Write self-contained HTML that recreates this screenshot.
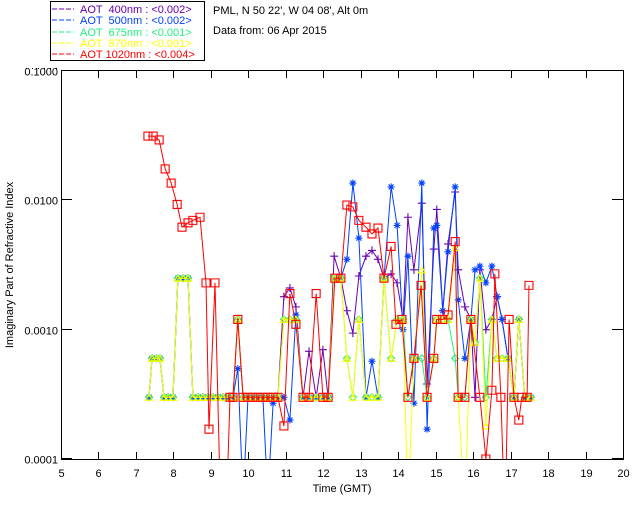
<!DOCTYPE html>
<html><head><meta charset="utf-8"><style>
body{margin:0;background:#fff;}
svg{display:block;font-family:"Liberation Sans",sans-serif;}
.pre{white-space:pre;}
</style></head><body>
<svg id="chart" width="640" height="512" viewBox="0 0 640 512" xmlns="http://www.w3.org/2000/svg">
<rect x="0" y="0" width="640" height="512" fill="#fff"/>
<g>
<rect x="50.5" y="1.5" width="154" height="59" fill="none" stroke="#000" stroke-width="1"/>
<g font-size="11" class="pre">
<line x1="52" y1="9" x2="74" y2="9" stroke="#6a00b0" stroke-dasharray="5,2"/><text class="pre" x="80" y="13" fill="#6a00b0">AOT  400nm : &lt;0.002&gt;</text>
<line x1="52" y1="20" x2="74" y2="20" stroke="#0040ff" stroke-dasharray="5,2"/><text class="pre" x="80" y="24" fill="#0040ff">AOT  500nm : &lt;0.002&gt;</text>
<line x1="52" y1="32" x2="74" y2="32" stroke="#20f080" stroke-dasharray="5,2"/><text class="pre" x="80" y="36" fill="#20f080">AOT  675nm : &lt;0.001&gt;</text>
<line x1="52" y1="43" x2="74" y2="43" stroke="#ffff00" stroke-dasharray="5,2"/><text class="pre" x="80" y="47" fill="#ffff00">AOT  870nm : &lt;0.001&gt;</text>
<line x1="52" y1="54" x2="74" y2="54" stroke="#ff0000" stroke-dasharray="5,2"/><text class="pre" x="80" y="58" fill="#ff0000">AOT 1020nm : &lt;0.004&gt;</text>
</g></g>
<text x="213" y="14" font-size="11">PML, N 50 22', W 04 08', Alt 0m</text>
<text x="213" y="34" font-size="11">Data from: 06 Apr 2015</text>
<g fill="#000">
<rect x="26" y="68" width="1" height="1"/><rect x="32" y="68" width="1" height="1"/><rect x="38" y="68" width="1" height="1"/><rect x="44" y="68" width="1" height="1"/><rect x="50" y="68" width="1" height="1"/><rect x="56" y="68" width="1" height="1"/>
</g>
<defs><clipPath id="pc"><rect x="61" y="71" width="562" height="388"/></clipPath></defs>
<g id="axes"></g>
<g id="series" clip-path="url(#pc)"></g>
<text x="342" y="492" font-size="11" text-anchor="middle">Time (GMT)</text>
<text transform="translate(13,265) rotate(-90)" font-size="11" text-anchor="middle">Imaginary Part of Refractive Index</text>
</svg>
<script>
const xTicks=[5,6,7,8,9,10,11,12,13,14,15,16,17,18,19,20];
const yTicks=[0.1,0.01,0.001,0.0001];
const yTickLabels=["0.1000","0.0100","0.0010","0.0001"];
const times=[7.35,7.43,7.56,7.64,7.75,7.86,7.99,8.12,8.26,8.39,8.52,8.66,8.79,8.92,9.06,9.19,9.32,9.46,9.59,9.72,9.86,9.99,10.12,10.26,10.39,10.52,10.66,10.79,10.95,11.11,11.27,11.46,11.62,11.81,11.99,12.13,12.29,12.47,12.63,12.79,12.95,13.14,13.30,13.46,13.62,13.81,13.97,14.13,14.26,14.42,14.63,14.77,14.95,15.03,15.19,15.33,15.52,15.60,15.78,15.94,16.05,16.18,16.34,16.50,16.64,16.77,16.93,17.09,17.22,17.38,17.54];
const v400=[.0003,.0006,.0006,.0006,.0003,.0003,.0003,.0025,.0025,.0025,.0003,.0003,.0003,.0003,.0003,.0003,.0003,.0003,.0003,.0012,.0003,.0003,.0003,.0003,.0003,.0003,.0003,.0003,.0018,.0021,.0015,.0003,.00068,.0003,.0007,.0003,.0037,.0025,.0014,.00094,.0026,.0037,.0041,.0035,.0025,.0027,.0023,.0012,.0074,.0029,.0095,.00038,.0042,.0085,.0014,.0046,.0116,.0029,.0015,.0012,.0003,.0029,.001,.0012,.0018,.0012,.0006,.0003,.0012,.0003,.0003];
const v500=[.0003,.0006,.0006,.0006,.0003,.0003,.0003,.0025,.0025,.0025,.0003,.0003,.0003,.0003,.0003,.0003,.0003,.0003,.0003,.0005,.00005,.0003,.0003,.0003,.0003,.00005,.00027,.0003,.0003,.0002,.0013,.0003,.0003,.0003,.0003,.0003,.0025,.0025,.0035,.0136,.0051,.0003,.00057,.0003,.0025,.0127,.0064,.0010,.0037,.00027,.0136,.00017,.0061,.0064,.0014,.004,.0127,.0017,.0006,.0012,.0029,.0031,.0023,.0031,.0018,.0012,.0006,.0003,.0012,.0003,.0003];
const v675=[.0003,.0006,.0006,.0006,.0003,.0003,.0003,.0025,.0025,.0025,.0003,.0003,.0003,.0003,.0003,.0003,.0003,.0003,.0003,.0012,.0003,.0003,.0003,.0003,.0003,.0003,.0003,.0003,.0012,.0012,.0012,.0003,.0003,.0003,.0003,.0003,.0025,.0025,.0006,.0003,.0012,.0003,.0003,.0003,.0025,.0006,.0012,.0012,.0003,.0006,.0006,.0003,.0006,.0012,.0012,.0012,.0006,.0003,.0003,.0012,.0008,.0025,.0003,.0012,.0006,.0006,.0006,.0003,.0012,.0003,.0003];
const v870=[.0003,.0006,.0006,.0006,.0003,.0003,.0003,.0025,.0025,.0025,.0003,.0003,.0003,.0003,.0003,.0003,.0003,.0003,.0003,.0012,.0003,.0003,.0003,.0003,.0003,.0003,.0003,.0003,.0012,.0012,.0012,.0003,.0003,.0003,.0003,.0003,.0025,.0025,.0006,.0003,.0012,.0003,.0003,.0003,.0025,.0006,.0012,.0012,.00004,.0006,.0029,.0003,.0006,.0012,.0012,.0012,.0043,.0003,.00004,.0012,.0008,.0025,.00018,.0012,.0006,.0006,.0006,.0003,.0012,.0003,.0003];
const times1020=[7.32,7.46,7.62,7.78,7.94,8.10,8.23,8.39,8.52,8.71,8.87,8.95,9.11,9.27,9.40,9.51,9.59,9.72,9.86,9.99,10.12,10.26,10.39,10.52,10.66,10.79,10.95,11.11,11.27,11.46,11.62,11.81,11.99,12.13,12.31,12.47,12.63,12.79,12.95,13.14,13.30,13.46,13.62,13.81,13.94,14.10,14.26,14.42,14.61,14.77,14.95,15.03,15.19,15.33,15.52,15.60,15.78,15.94,16.18,16.34,16.50,16.58,16.74,16.85,16.96,17.09,17.22,17.30,17.44,17.49];
const v1020=[.0314,.0314,.0293,.0175,.0136,.0093,.0062,.0067,.0070,.0074,.0023,.00017,.0023,.00003,.00003,.0003,.0003,.0012,.0003,.0003,.0003,.0003,.0003,.0003,.0003,.0003,.00018,.0019,.0011,.0003,.0003,.0019,.0003,.0003,.0025,.0025,.0092,.0089,.0070,.0062,.0055,.0061,.0025,.0044,.0011,.0012,.0003,.0006,.0022,.0003,.0006,.0012,.0012,.0013,.0048,.0003,.0003,.0012,.0003,.0001,.00034,.0027,.0003,.00003,.0012,.0003,.0002,.0003,.0003,.0022];

const NS="http://www.w3.org/2000/svg";
const X=t=>61+(t-5)*37.467;
const Y=v=>71+(-1-Math.log10(v))*129.33;
const axes=document.getElementById('axes');
const ser=document.getElementById('series');
function mk(tag,attrs,parent){const e=document.createElementNS(NS,tag);for(const k in attrs)e.setAttribute(k,attrs[k]);parent.appendChild(e);return e;}
const frame=mk('rect',{x:61.5,y:70.5,width:562,height:389,fill:'none',stroke:'#000','stroke-width':1},axes);


xTicks.forEach(t=>{
  const x=Math.round(X(t))+0.5;
  const tk=mk('path',{d:`M${x},459V452M${x},71V78`,stroke:'#000','stroke-width':1},axes);
  
  
  const lb=mk('text',{x:x,y:477,'font-size':11,'text-anchor':'middle'},axes);
  lb.textContent=t;
  
  
});
yTicks.forEach((v,i)=>{
  const y=Math.round(Y(v))-0.5;
  const tk=mk('path',{d:`M61,${y}H72M623,${y}H612`,stroke:'#000','stroke-width':1},axes);
  
  
  const lb=mk('text',{x:58,y:y+5,'font-size':11,'text-anchor':'end'},axes);
  lb.textContent=yTickLabels[i];
  
  
});
function series(name,ts,vs,color,marker){
  const g=mk('g',{},ser);
  
  
  const pts=ts.map((t,i)=>X(t).toFixed(1)+','+Y(vs[i]).toFixed(1)).join(' ');
  const l=mk('polyline',{points:pts,fill:'none',stroke:color,'stroke-width':1},g);
  
  
  ts.forEach((t,i)=>{
    const x=X(t),y=Y(vs[i]);
    if(y>462||y<68)return;
    let d;
    if(marker==='sq')d=`M${x-4},${y-4}h8v8h-8z`;
    else if(marker==='plus')d=`M${x-4},${y}h8M${x},${y-4}v8`;
    else if(marker==='star')d=`M${x-3.5},${y}h7M${x},${y-3.5}v7M${x-2.5},${y-2.5}l5,5M${x-2.5},${y+2.5}l5,-5`;
    else if(marker==='tri')d=`M${x-3.5},${y+3}h7l-3.5,-6z`;
    else d=`M${x},${y-3.5}l3.5,3.5l-3.5,3.5l-3.5,-3.5z`;
    const m=mk('path',{d:d,fill:'none',stroke:color,'stroke-width':1.1},g);
    
    
  });
}
series('series-400nm',times,v400,'#6a00b0','plus');
series('series-500nm',times,v500,'#0040ff','star');
series('series-675nm',times,v675,'#20f080','dia');
series('series-870nm',times,v870,'#ffff00','tri');
series('series-1020nm',times1020,v1020,'#ff0000','sq');
</script>
</body></html>
